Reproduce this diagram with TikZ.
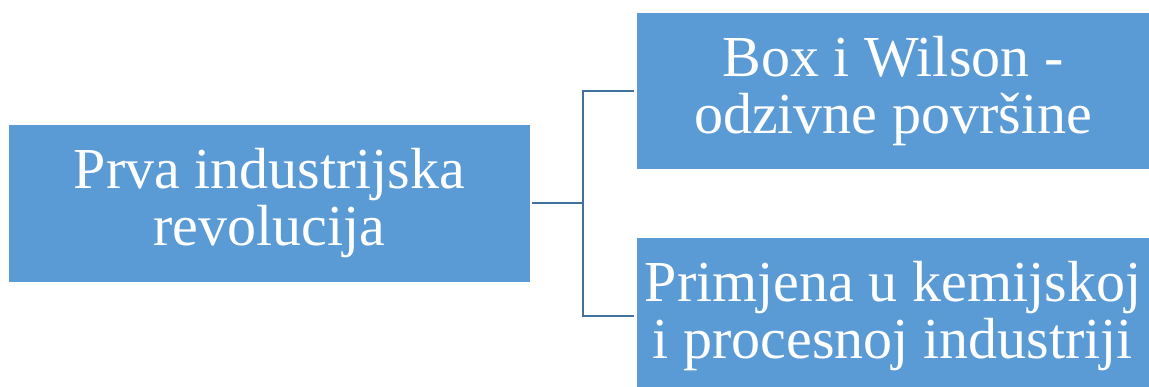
\documentclass[tikz,border=0pt]{standalone}
\usepackage{fontspec}
\setmainfont{Liberation Serif}
\definecolor{boxblue}{RGB}{91,155,213}
\definecolor{lineblue}{RGB}{65,113,156}
\begin{document}
\begin{tikzpicture}[x=1pt,y=1pt,
  box/.style={fill=boxblue, text=white, align=center, inner sep=0pt,
    minimum width=512pt, minimum height=156pt,
    font=\fontsize{58}{57}\selectfont},
  conn/.style={draw=lineblue, line width=2pt}]

  \useasboundingbox (0,0) rectangle (1149,387);

  \node[box, minimum width=521pt, minimum height=157pt] (prva) at (269.5,183.5)
     {Prva industrijska\\revolucija};
  \node[box] (box) at (893,296) {Box i Wilson -\\odzivne površine};
  \node[box] (primjena) at (893,71) {Primjena u kemijskoj\\i procesnoj industriji};

  \coordinate (fork) at (583,183.5);
  \draw[conn, shorten <=2pt] (prva.east) -- (fork);
  \draw[conn, shorten >=3pt] (fork) |- (box.west);
  \draw[conn, shorten >=3pt] (fork) |- (primjena.west);
 \end{tikzpicture}
\end{document}
